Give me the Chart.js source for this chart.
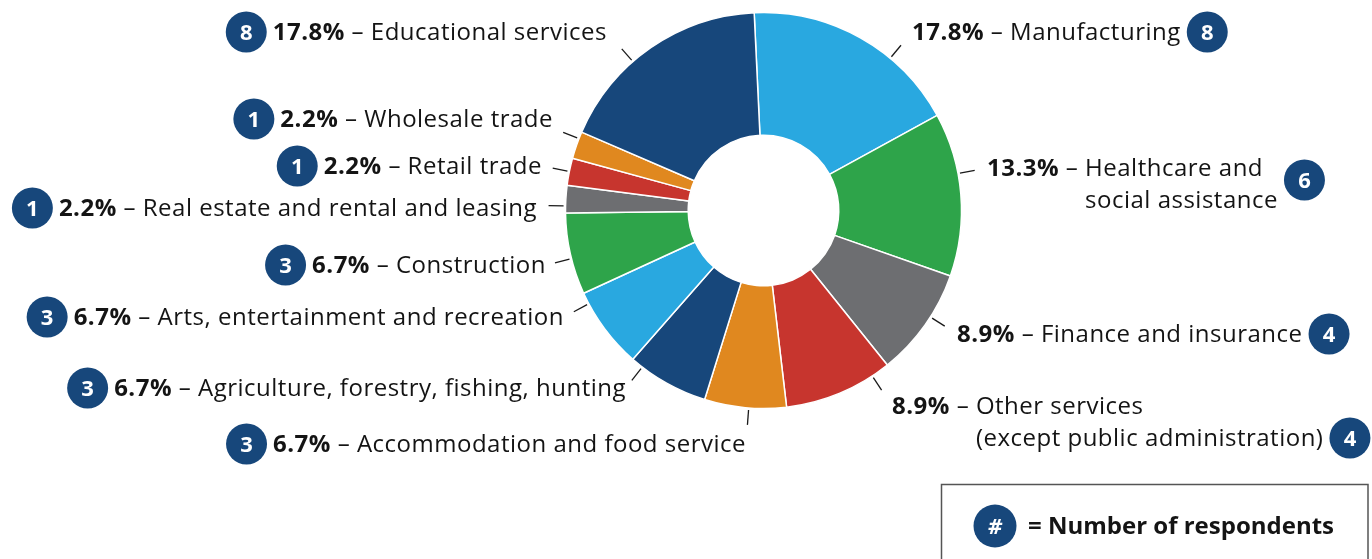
<!DOCTYPE html>
<html>
<head>
<meta charset="utf-8">
<script src="https://cdn.jsdelivr.net/npm/chart.js@4.4.0/dist/chart.umd.min.js"></script>
<style>
  html, body { margin: 0; padding: 0; background: #fff; }
  #wrap { width: 1372px; height: 559px; position: relative; }
</style>
</head>
<body>
<div id="wrap"><canvas id="chart"></canvas></div>
<script>
// data, clockwise from the top
const categories = [
  "Manufacturing",
  "Healthcare and\nsocial assistance",
  "Finance and insurance",
  "Other services\n(except public administration)",
  "Accommodation and food service",
  "Agriculture, forestry, fishing, hunting",
  "Arts, entertainment and recreation",
  "Construction",
  "Real estate and rental and leasing",
  "Retail trade",
  "Wholesale trade",
  "Educational services",
];
const respondents = [8, 6, 4, 4, 3, 3, 3, 3, 1, 1, 1, 8];
const legendText = "= Number of respondents";

const NAVY = "#17477b";
const sliceColors = [
  "#29a8e0", "#2ea44a", "#6d6e71", "#c7352e", "#e0881f", NAVY,
  "#29a8e0", "#2ea44a", "#6d6e71", "#c7352e", "#e0881f", NAVY,
];

// where each label sits (x = text start on the right side, text end on the left side)
const labelLayout = [
  { side: "right", x: 912, y: 32 },
  { side: "right", x: 987, y: 168, badgeDy: 12, badgeAfterLast: true },
  { side: "right", x: 957, y: 334 },
  { side: "right", x: 892, y: 406, badgeDy: 32, badgeAfterLast: true },
  { side: "left", x: 746, y: 444 },
  { side: "left", x: 626, y: 388 },
  { side: "left", x: 564, y: 317 },
  { side: "left", x: 546, y: 265 },
  { side: "left", x: 537, y: 208 },
  { side: "left", x: 542, y: 166 },
  { side: "left", x: 553, y: 119 },
  { side: "left", x: 607, y: 32 },
];

const total = respondents.reduce((a, b) => a + b, 0);
const FONT = "'Open Sans'";
const SIZE = 24;
const LINE_H = 32;
const BADGE_R = 20.5;

function badge(ctx, x, y, r, txt, italic) {
  ctx.beginPath();
  ctx.arc(x, y, r, 0, Math.PI * 2);
  ctx.fillStyle = NAVY;
  ctx.fill();
  ctx.fillStyle = "#fff";
  ctx.letterSpacing = "0px";
  ctx.font = (italic ? "italic " : "") + "700 22px " + FONT;
  ctx.textAlign = "center";
  ctx.textBaseline = "alphabetic";
  ctx.fillText(txt, x, y + 8);
}

const labelPlugin = {
  id: "sliceLabels",
  afterDraw(chart) {
    const ctx = chart.ctx;
    const arcs = chart.getDatasetMeta(0).data;
    ctx.save();
    arcs.forEach((arc, i) => {
      const p = arc.getProps(["x", "y", "startAngle", "endAngle", "outerRadius"], true);
      const lay = labelLayout[i];
      const lines = categories[i].split("\n");
      const pct = (respondents[i] / total * 100).toFixed(1) + "%";

      // leader tick, pointing at the label but kept inside its slice
      let a = Math.atan2(lay.y - p.y, lay.x - p.x);
      while (a < p.startAngle) a += Math.PI * 2;
      const m = 0.035;
      a = Math.min(Math.max(a, p.startAngle + m), p.endAngle - m);
      ctx.beginPath();
      ctx.moveTo(p.x + Math.cos(a) * (p.outerRadius + 2), p.y + Math.sin(a) * (p.outerRadius + 2));
      ctx.lineTo(p.x + Math.cos(a) * (p.outerRadius + 17), p.y + Math.sin(a) * (p.outerRadius + 17));
      ctx.strokeStyle = "#1a1a1a";
      ctx.lineWidth = 1.3;
      ctx.stroke();

      // text
      ctx.letterSpacing = "0.5px";
      ctx.textBaseline = "alphabetic";
      ctx.textAlign = "left";
      ctx.font = "700 " + SIZE + "px " + FONT;
      const wPct = ctx.measureText(pct).width;
      ctx.font = "400 " + SIZE + "px " + FONT;
      const dash = " \u2013 ";
      const wDash = ctx.measureText(dash).width;
      const w1 = ctx.measureText(lines[0]).width;
      const start = lay.side === "right" ? lay.x : lay.x - (wPct + wDash + w1);
      const nameX = start + wPct + wDash;
      ctx.fillStyle = "#141414";
      ctx.font = "700 " + SIZE + "px " + FONT;
      ctx.fillText(pct, start, lay.y + 8);
      ctx.font = "400 " + SIZE + "px " + FONT;
      ctx.fillText(dash + lines[0], start + wPct, lay.y + 8);
      let lastEnd = nameX + w1;
      for (let k = 1; k < lines.length; k++) {
        ctx.fillText(lines[k], nameX, lay.y + 8 + LINE_H * k);
        lastEnd = nameX + ctx.measureText(lines[k]).width;
      }

      // respondent badge
      const by = lay.y + (lay.badgeDy || 0);
      const bx = lay.side === "right" ? lastEnd + 6 + BADGE_R : start - 6 - BADGE_R;
      badge(ctx, bx, by, BADGE_R, String(respondents[i]), false);
    });

    // key box
    ctx.strokeStyle = "#555";
    ctx.lineWidth = 1.5;
    ctx.strokeRect(941.5, 484.5, 426.5, 100);
    badge(ctx, 995, 526, 21.5, "#", true);
    ctx.fillStyle = "#141414";
    ctx.textAlign = "left";
    ctx.letterSpacing = "0px";
    ctx.font = "700 " + SIZE + "px " + FONT;
    ctx.fillText(legendText, 1028, 534);
    ctx.restore();
  },
};

new Chart(document.getElementById("chart"), {
  type: "doughnut",
  data: {
    labels: categories.map((c) => c.replace("\n", " ")),
    datasets: [
      {
        data: respondents,
        backgroundColor: sliceColors,
        borderColor: "#ffffff",
        borderWidth: 1.5,
      },
    ],
  },
  options: {
    responsive: true,
    maintainAspectRatio: false,
    animation: false,
    rotation: -2.7,
    radius: 198,
    cutout: 75,
    layout: { padding: { left: 565.5, right: 410.5, top: 12.5, bottom: 150.5 } },
    plugins: {
      legend: { display: false },
      tooltip: { enabled: false },
    },
  },
  plugins: [labelPlugin],
});
</script>
</body>
</html>
